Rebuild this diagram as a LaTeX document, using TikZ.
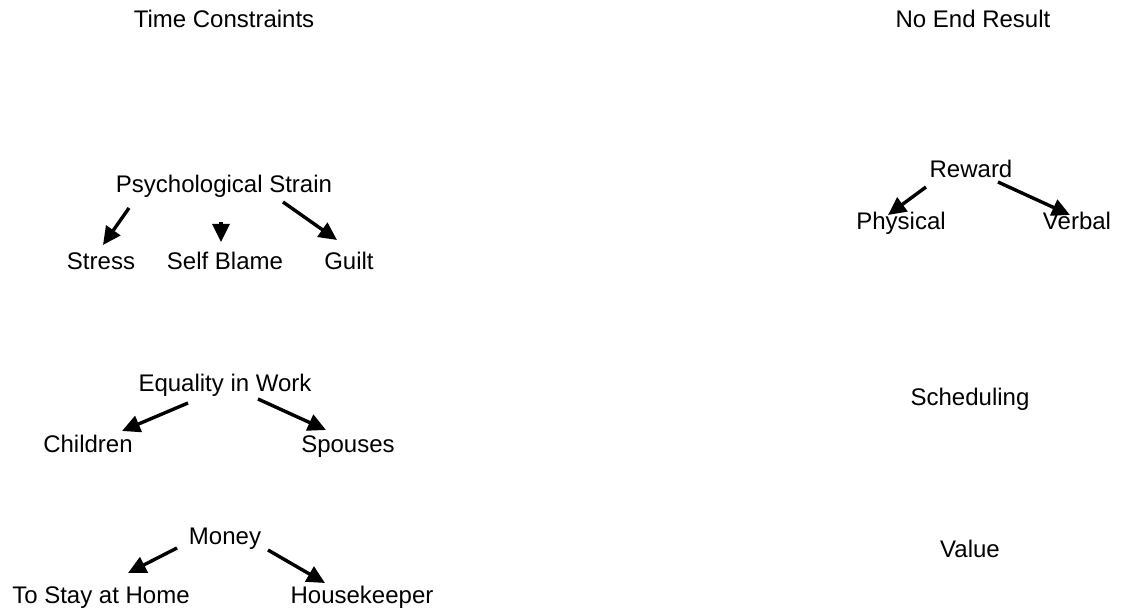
\documentclass[tikz,border=0pt]{standalone}
\usepackage{fontspec}
\setmainfont{Liberation Sans}
\usetikzlibrary{arrows.meta,calc}
\tikzset{>={Triangle[length=9pt,width=8.5pt]}}
\colorlet{penColor}{black}

\begin{document}
\begin{tikzpicture}[x=0.5pt,y=-0.5pt,
    lbl/.style={anchor=base,inner sep=0pt,text=penColor,font=\fontsize{12}{14}\selectfont},
    arr/.style={->,penColor,line width=1.7pt}]
      \useasboundingbox (0,0) rectangle (1121,610);
      % left column
      \node [lbl] (time) at (224,28) {Time Constraints};
      \node [lbl] (psych) at (224,193) {Psychological Strain};
      \node [lbl] (stress) at (101,270) {Stress};
      \node [lbl] (blame) at (225,270) {Self Blame};
      \node [lbl] (guilt) at (349,270) {Guilt};
      \node [lbl] (equal) at (225,392) {Equality in Work};
      \node [lbl] (child) at (88,452) {Children};
      \node [lbl] (spouse) at (348,452) {Spouses};
      \node [lbl] (money) at (225,544) {Money};
      \node [lbl] (home) at (101,603) {To Stay at Home};
      \node [lbl] (keeper) at (362,603) {Housekeeper};
      % right column
      \node [lbl] (noend) at (973,28) {No End Result};
      \node [lbl] (reward) at (971,178) {Reward};
      \node [lbl] (phys) at (901,230) {Physical};
      \node [lbl] (verbal) at (1077,230) {Verbal};
      \node [lbl] (sched) at (970,406) {Scheduling};
      \node [lbl] (value) at (970,557) {Value};
      % arrows
      \draw [arr] ($(psych.base)+(-95,15)$) -- ($(stress.base)+(2,-25)$);
      \draw [arr] ($(psych.base)+(-3,29)$) -- ($(blame.base)+(-4,-28)$);
      \draw [arr] ($(psych.base)+(59,9)$) -- ($(guilt.base)+(-12,-30)$);
      \draw [arr] ($(equal.base)+(-37,11)$) -- ($(child.base)+(34,-21)$);
      \draw [arr] ($(equal.base)+(33,7)$) -- ($(spouse.base)+(-22,-22)$);
      \draw [arr] ($(money.base)+(-48,4)$) -- ($(home.base)+(27,-30)$);
      \draw [arr] ($(money.base)+(43,6)$) -- ($(keeper.base)+(-37,-20)$);
      \draw [arr] ($(reward.base)+(-45,9)$) -- ($(phys.base)+(-13,-15)$);
      \draw [arr] ($(reward.base)+(27,4)$) -- ($(verbal.base)+(-7,-15)$);
\end{tikzpicture}
\end{document}
